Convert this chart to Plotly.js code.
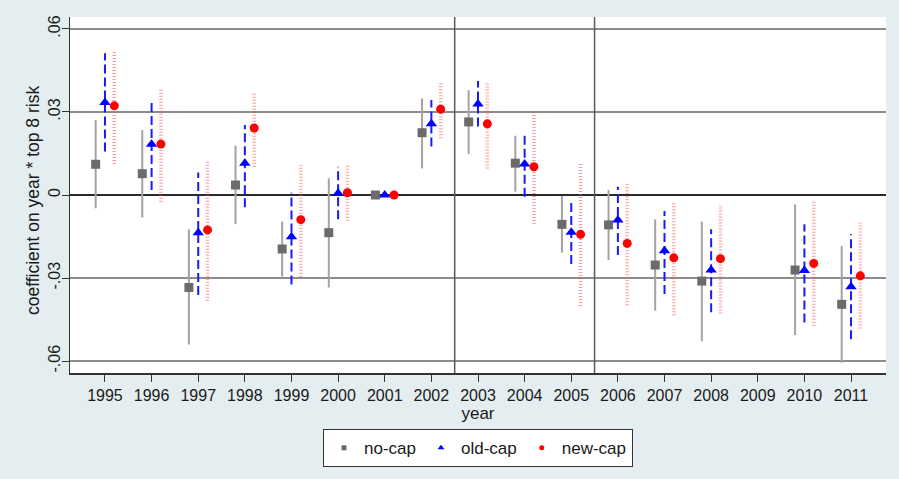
<!DOCTYPE html>
<html>
<head>
<meta charset="utf-8">
<script src="https://cdn.plot.ly/plotly-3.0.1.min.js"></script>
<style>
html,body{margin:0;padding:0;background:#e4edef;}
#chart{width:899px;height:479px;}
</style>
</head>
<body>
<div id="chart"></div>
<script>
const years = [1995,1996,1997,1998,1999,2000,2001,2002,2003,2004,2005,2006,2007,2008,2009,2010,2011];
const yTickVals = [-0.06,-0.03,0,0.03,0.06];
const yTickText = ['-.06','-.03','0','.03','.06'];
const seriesNames = ['no-cap','old-cap','new-cap'];

const noCap   = [0.0111,0.0077,-0.0334,0.0036,-0.0195,-0.0136,0,0.0225,0.0264,0.0115,-0.0106,-0.0108,-0.0253,-0.0311,null,-0.0271,-0.0395];
const noCapLo = [-0.0048,-0.0081,-0.0540,-0.0105,-0.0295,-0.0334,0,0.0096,0.0148,0.0012,-0.0208,-0.0235,-0.0418,-0.0528,null,-0.0506,-0.0606];
const noCapHi = [0.0271,0.0235,-0.0124,0.0178,-0.0096,0.0060,0,0.0349,0.0379,0.0214,-0.0004,0.0018,-0.0088,-0.0096,null,-0.0034,-0.0184];

const oldCap   = [0.0334,0.0183,-0.0136,0.0115,-0.0151,0.0006,0,0.0257,0.0329,0.0112,-0.0135,-0.0090,-0.0201,-0.0271,null,-0.0273,-0.0331];
const oldCapLo = [0.0157,0.0018,-0.0361,-0.0044,-0.0323,-0.0088,0,0.0175,0.0247,-0.0006,-0.0249,-0.0217,-0.0358,-0.0424,null,-0.0461,-0.0521];
const oldCapHi = [0.0512,0.0343,0.0081,0.0253,0.0008,0.0102,0,0.0343,0.0412,0.0219,-0.0021,0.0030,-0.0058,-0.0124,null,-0.0106,-0.0142];

const newCap   = [0.0322,0.0184,-0.0126,0.0242,-0.0089,0.0008,0,0.0310,0.0257,0.0102,-0.0142,-0.0175,-0.0227,-0.0230,null,-0.0247,-0.0292];
const newCapLo = [0.0112,-0.0024,-0.0382,0.0102,-0.0295,-0.0093,0,0.0205,0.0096,-0.0105,-0.0401,-0.0398,-0.0434,-0.0428,null,-0.0472,-0.0482];
const newCapHi = [0.0524,0.0386,0.0126,0.0373,0.0108,0.0108,0,0.0404,0.0410,0.0301,0.0115,0.0044,-0.0024,-0.0036,null,-0.0024,-0.0100];

const breaks = [2002.5, 2005.5];

function segs(off, lo, hi){
  const xs=[], ys=[];
  years.forEach((yr,i)=>{
    if(lo[i]===null||hi[i]===null) return;
    xs.push(yr+off, yr+off, null);
    ys.push(lo[i], hi[i], null);
  });
  return {xs, ys};
}

const specs = [
  {name:seriesNames[0], off:-0.2, v:noCap, lo:noCapLo, hi:noCapHi,
   line:{color:'#a3a3a3', width:2}, marker:{symbol:'square', size:9, color:'#6b6b6b'}, lsize:5},
  {name:seriesNames[1], off:0, v:oldCap, lo:oldCapLo, hi:oldCapHi,
   line:{color:'#1a1aff', width:2, dash:'9px,4px'}, marker:{symbol:'triangle-up', size:10, color:'#0000ff'}, lsize:6},
  {name:seriesNames[2], off:0.2, v:newCap, lo:newCapLo, hi:newCapHi,
   line:{color:'rgba(255,70,70,0.55)', width:3.5, dash:'1px,2px'}, marker:{symbol:'circle', size:9, color:'#ff0000'}, lsize:5}
];

const traces = [];
specs.forEach(s=>{
  const sg = segs(s.off, s.lo, s.hi);
  traces.push({type:'scatter', mode:'lines', x:sg.xs, y:sg.ys, line:s.line,
    showlegend:false, hoverinfo:'skip'});
});
specs.forEach(s=>{
  traces.push({type:'scatter', mode:'markers', name:s.name, showlegend:false,
    x:years.map(y=>y+s.off), y:s.v, marker:s.marker});
});
// legend entries (small symbols, as in the reference legend)
specs.forEach(s=>{
  traces.push({type:'scatter', mode:'markers', name:s.name, x:[null], y:[null],
    marker:Object.assign({}, s.marker, {size:s.lsize})});
});

const shapes = breaks.map(b=>({type:'line', xref:'x', yref:'paper', x0:b, x1:b, y0:0, y1:1,
  line:{color:'#5a5a5a', width:1.5}}));

const layout = {
  width:899, height:479,
  paper_bgcolor:'#e4edef', plot_bgcolor:'#ffffff',
  margin:{l:70, r:13, t:17, b:106},
  font:{family:'Liberation Sans, Arial, sans-serif', color:'#1a1a1a', size:16},
  showlegend:true,
  legend:{orientation:'h', x:0.5, xanchor:'center', y:-0.158, yanchor:'top',
    bgcolor:'#ffffff', bordercolor:'#333333', borderwidth:1,
    font:{size:17}, itemwidth:30},
  xaxis:{range:[1994.25,2011.75], tickmode:'array', tickvals:years,
    ticktext:years.map(String), showgrid:false, zeroline:false,
    showline:true, linecolor:'#333', linewidth:1.5, ticks:'outside', ticklen:7,
    tickcolor:'#333', tickfont:{size:16},
    title:{text:'year', font:{size:17}, standoff:2}},
  yaxis:{range:[-0.0643,0.0643], tickmode:'array', tickvals:yTickVals, ticktext:yTickText,
    tickangle:-90, showgrid:true, gridcolor:'#8c8c8c', gridwidth:1.5,
    zeroline:true, zerolinecolor:'#2a2a2a', zerolinewidth:1.5,
    showline:true, linecolor:'#333', linewidth:1.5, ticks:'outside', ticklen:7,
    tickcolor:'#333', tickfont:{size:16}, ticklabelstandoff:-5},
  annotations:[{text:'coefficient on year * top 8 risk', xref:'paper', yref:'paper',
    x:-0.0453, y:0.483, xanchor:'center', yanchor:'middle', textangle:-90,
    showarrow:false, font:{size:17.5, color:'#1a1a1a'}}],
  shapes:shapes
};

Plotly.newPlot('chart', traces, layout, {displayModeBar:false, staticPlot:true});
</script>
</body>
</html>
